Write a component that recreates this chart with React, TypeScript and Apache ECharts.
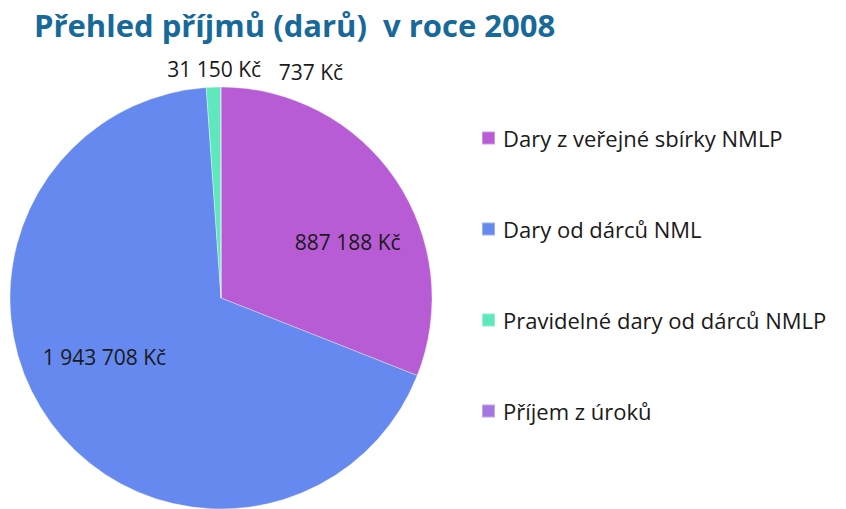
import React, { useEffect, useRef } from "react";
import * as echarts from "echarts";

const title = "Přehled příjmů (darů)  v roce 2008";
const categories = [
  "Dary z veřejné sbírky NMLP",
  "Dary od dárců NML",
  "Pravidelné dary od dárců NMLP",
  "Příjem z úroků",
];
const values = [887188, 1943708, 31150, 737];
const labelTexts = ["887 188 Kč", "1 943 708 Kč", "31 150 Kč", "737 Kč"];
const colors = ["#b85cd6", "#6589ee", "#5ee8bb", "#a676e0"];
const labelOffsets: [number, number][] = [
  [37, 5],
  [-29, -5],
  [-3, -121],
  [90, -118],
];

export default function App() {
  const ref = useRef<HTMLDivElement>(null);
  useEffect(() => {
    if (!ref.current) return;
    const chart = echarts.init(ref.current, undefined, { renderer: "svg" });
    const font = "'Open Sans', Lato, sans-serif";
    chart.setOption({
      animation: false,
      backgroundColor: "#ffffff",
      title: {
        text: title,
        left: 29,
        top: 4,
        textStyle: {
          color: "#17699a",
          fontSize: 31,
          fontWeight: "bold",
          fontFamily: font,
        },
      },
      legend: {
        orient: "vertical",
        left: 476,
        top: 122,
        itemGap: 69,
        itemWidth: 13,
        itemHeight: 13,
        icon: "rect",
        data: categories,
        textStyle: { fontSize: 22, color: "#1a1a1a", fontFamily: font, padding: [0, 0, 0, 3] },
      },
      series: [
        {
          type: "pie",
          center: [221, 298],
          radius: [0, 211],
          startAngle: 90,
          clockwise: true,
          avoidLabelOverlap: false,
          itemStyle: { borderColor: "rgba(255,255,255,0.35)", borderWidth: 1 },
          labelLine: { show: false },
          data: categories.map((name, i) => ({
            name,
            value: values[i],
            itemStyle: { color: colors[i] },
            label: {
              show: true,
              position: "inside",
              formatter: labelTexts[i],
              offset: labelOffsets[i],
              fontSize: 21,
              color: "#1a1a1a",
              fontFamily: font,
            },
          })),
        },
      ],
    });
    return () => chart.dispose();
  }, []);
  return <div ref={ref} style={{ width: 846, height: 509, position: "absolute", left: 0, top: 0 }} />;
}
